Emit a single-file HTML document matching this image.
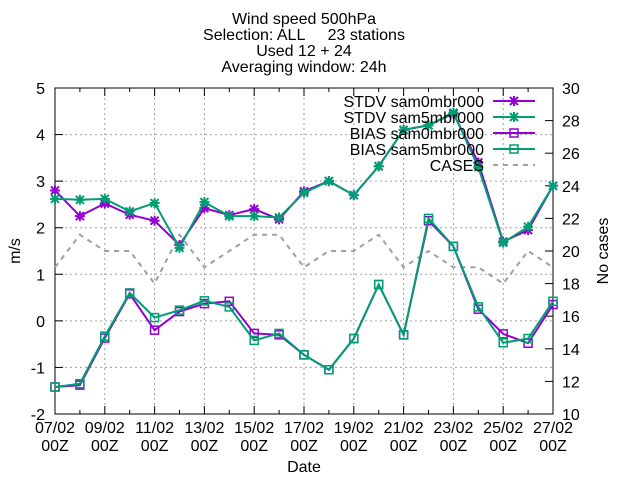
<!DOCTYPE html>
<html><head><meta charset="utf-8"><style>body{margin:0;background:#fff}svg{display:block;font-family:"Liberation Sans",sans-serif}</style></head>
<body>
<svg id="c" width="640" height="480"></svg>
<script>
const dates=["07/02","08/02","09/02","10/02","11/02","12/02","13/02","14/02","15/02","16/02","17/02","18/02","19/02","20/02","21/02","22/02","23/02","24/02","25/02","26/02","27/02"];
const stdv0=[2.8,2.25,2.52,2.28,2.15,1.63,2.42,2.27,2.4,2.18,2.78,3.0,2.7,3.32,4.1,4.2,4.45,3.4,1.7,1.95,2.9];
const stdv5=[2.62,2.6,2.62,2.35,2.53,1.57,2.55,2.25,2.25,2.22,2.75,3.0,2.7,3.32,4.1,4.2,4.47,3.3,1.68,2.02,2.9];
const bias0=[-1.42,-1.38,-0.37,0.58,-0.2,0.2,0.37,0.42,-0.27,-0.3,-0.73,-1.05,-0.38,0.78,-0.3,2.15,1.6,0.25,-0.28,-0.48,0.35];
const bias5=[-1.42,-1.35,-0.33,0.6,0.07,0.23,0.43,0.3,-0.42,-0.27,-0.73,-1.05,-0.38,0.78,-0.3,2.2,1.6,0.3,-0.47,-0.38,0.42];
const cases=[19,21,20,20,18,21,19,20,21,21,19,20,20,21,19,20,19,19,18,20,19];
const yTicks=[-2,-1,0,1,2,3,4,5];
const y2Ticks=[10,12,14,16,18,20,22,24,26,28,30];
const L=55,R=553,T=88,B=414;
const FS=16;
const svg=document.getElementById('c');const NS="http://www.w3.org/2000/svg";
function el(t,a,txt){const e=document.createElementNS(NS,t);for(const k in a)e.setAttribute(k,a[k]);if(txt!=null)e.textContent=txt;svg.appendChild(e);return e;}
const x=i=>L+(R-L)*i/(dates.length-1);
const y=v=>B-(v+2)*(B-T)/7;
const y2=v=>B-(v-10)*(B-T)/20;
yTicks.forEach(v=>{
 if(v>-2&&v<5){const g=el('line',{x1:L,x2:R,y1:y(v),y2:y(v),stroke:'#a0a0a0','stroke-dasharray':'2,3','stroke-width':1});
 
 }
 el('line',{x1:L,x2:L+8,y1:y(v),y2:y(v),stroke:'#000'});
 const t=el('text',{x:L-10,y:y(v)+6,'text-anchor':'end','font-size':FS},v);
 
 
});
y2Ticks.forEach(v=>{
 el('line',{x1:R-8,x2:R,y1:y2(v),y2:y2(v),stroke:'#000'});
 const t=el('text',{x:R+9,y:y2(v)+6,'font-size':FS},v);
 
 
});
dates.forEach((d,i)=>{
 const major=i%2==0;
 if(major&&i>0&&i<dates.length-1){const g=el('line',{x1:x(i),x2:x(i),y1:T,y2:B,stroke:'#a0a0a0','stroke-dasharray':'2,3'});
 
 }
 const len=major?8:4;
 el('line',{x1:x(i),x2:x(i),y1:B,y2:B-len,stroke:'#000'});
 el('line',{x1:x(i),x2:x(i),y1:T,y2:T+len,stroke:'#000'});
 if(major){const t=el('text',{x:x(i),y:433,'text-anchor':'middle','font-size':FS},d);
 
 
 const t2=el('text',{x:x(i),y:451,'text-anchor':'middle','font-size':FS},'00Z');
 
 }
});
const fr=el('rect',{x:L,y:T,width:R-L,height:B-T,fill:'none',stroke:'#000'});


const cp=el('polyline',{points:cases.map((v,i)=>x(i)+','+y2(v)).join(' '),fill:'none',stroke:'#a0a0a0','stroke-width':2,'stroke-dasharray':'5,5'});


function star(cx,cy,c,g){const p=document.createElementNS(NS,'path');p.setAttribute('d',`M${cx-4},${cy-4}L${cx+4},${cy+4}M${cx-4},${cy+4}L${cx+4},${cy-4}M${cx-5},${cy}L${cx+5},${cy}M${cx},${cy-5}L${cx},${cy+5}`);p.setAttribute('stroke',c);p.setAttribute('stroke-width',2);g.appendChild(p);}
function sq(cx,cy,c,g){const p=document.createElementNS(NS,'rect');p.setAttribute('x',cx-4);p.setAttribute('y',cy-4);p.setAttribute('width',8);p.setAttribute('height',8);p.setAttribute('fill','none');p.setAttribute('stroke',c);p.setAttribute('stroke-width',1.5);g.appendChild(p);}
const series=[[stdv0,'#9400d3',star,'stdv-sam0'],[stdv5,'#009e73',star,'stdv-sam5'],[bias0,'#9400d3',sq,'bias-sam0'],[bias5,'#009e73',sq,'bias-sam5']];
series.forEach(([d,c,m,n])=>{
 const l=el('polyline',{points:d.map((v,i)=>x(i)+','+y(v)).join(' '),fill:'none',stroke:c,'stroke-width':2});
 
 
 const g=el('g',{});
 
 
 d.forEach((v,i)=>m(x(i),y(v),c,g));
});
const leg=[['STDV sam0mbr000','#9400d3',star],['STDV sam5mbr000','#009e73',star],['BIAS sam0mbr000','#9400d3',sq],['BIAS sam5mbr000','#009e73',sq],['CASES','#a0a0a0',null]];
leg.forEach(([t,c,m],k)=>{
 const yy=101+k*16;
 const tx=el('text',{x:484,y:yy+6,'text-anchor':'end','font-size':FS},t);
 
 
 el('line',{x1:493,x2:535,y1:yy,y2:yy,stroke:c,'stroke-width':2,'stroke-dasharray':m?'none':'5,5'});
 if(m){const g=el('g',{});m(514,yy,c,g);}
});
[['Wind speed 500hPa',24],['Selection: ALL\u00a0\u00a0\u00a0\u00a0\u00a023 stations',40],['Used 12 + 24',56],['Averaging window: 24h',72]].forEach(([t,yy])=>{
 const e=el('text',{x:304,y:yy,'text-anchor':'middle','font-size':FS},t);
 
 
});
const xl=el('text',{x:304,y:472,'text-anchor':'middle','font-size':FS},'Date');


const yl=el('text',{x:0,y:0,'text-anchor':'middle','font-size':FS,transform:'translate(20,251) rotate(-90)'},'m/s');


const y2l=el('text',{x:0,y:0,'text-anchor':'middle','font-size':FS,transform:'translate(608,251) rotate(-90)'},'No cases');


</script>
</body></html>
